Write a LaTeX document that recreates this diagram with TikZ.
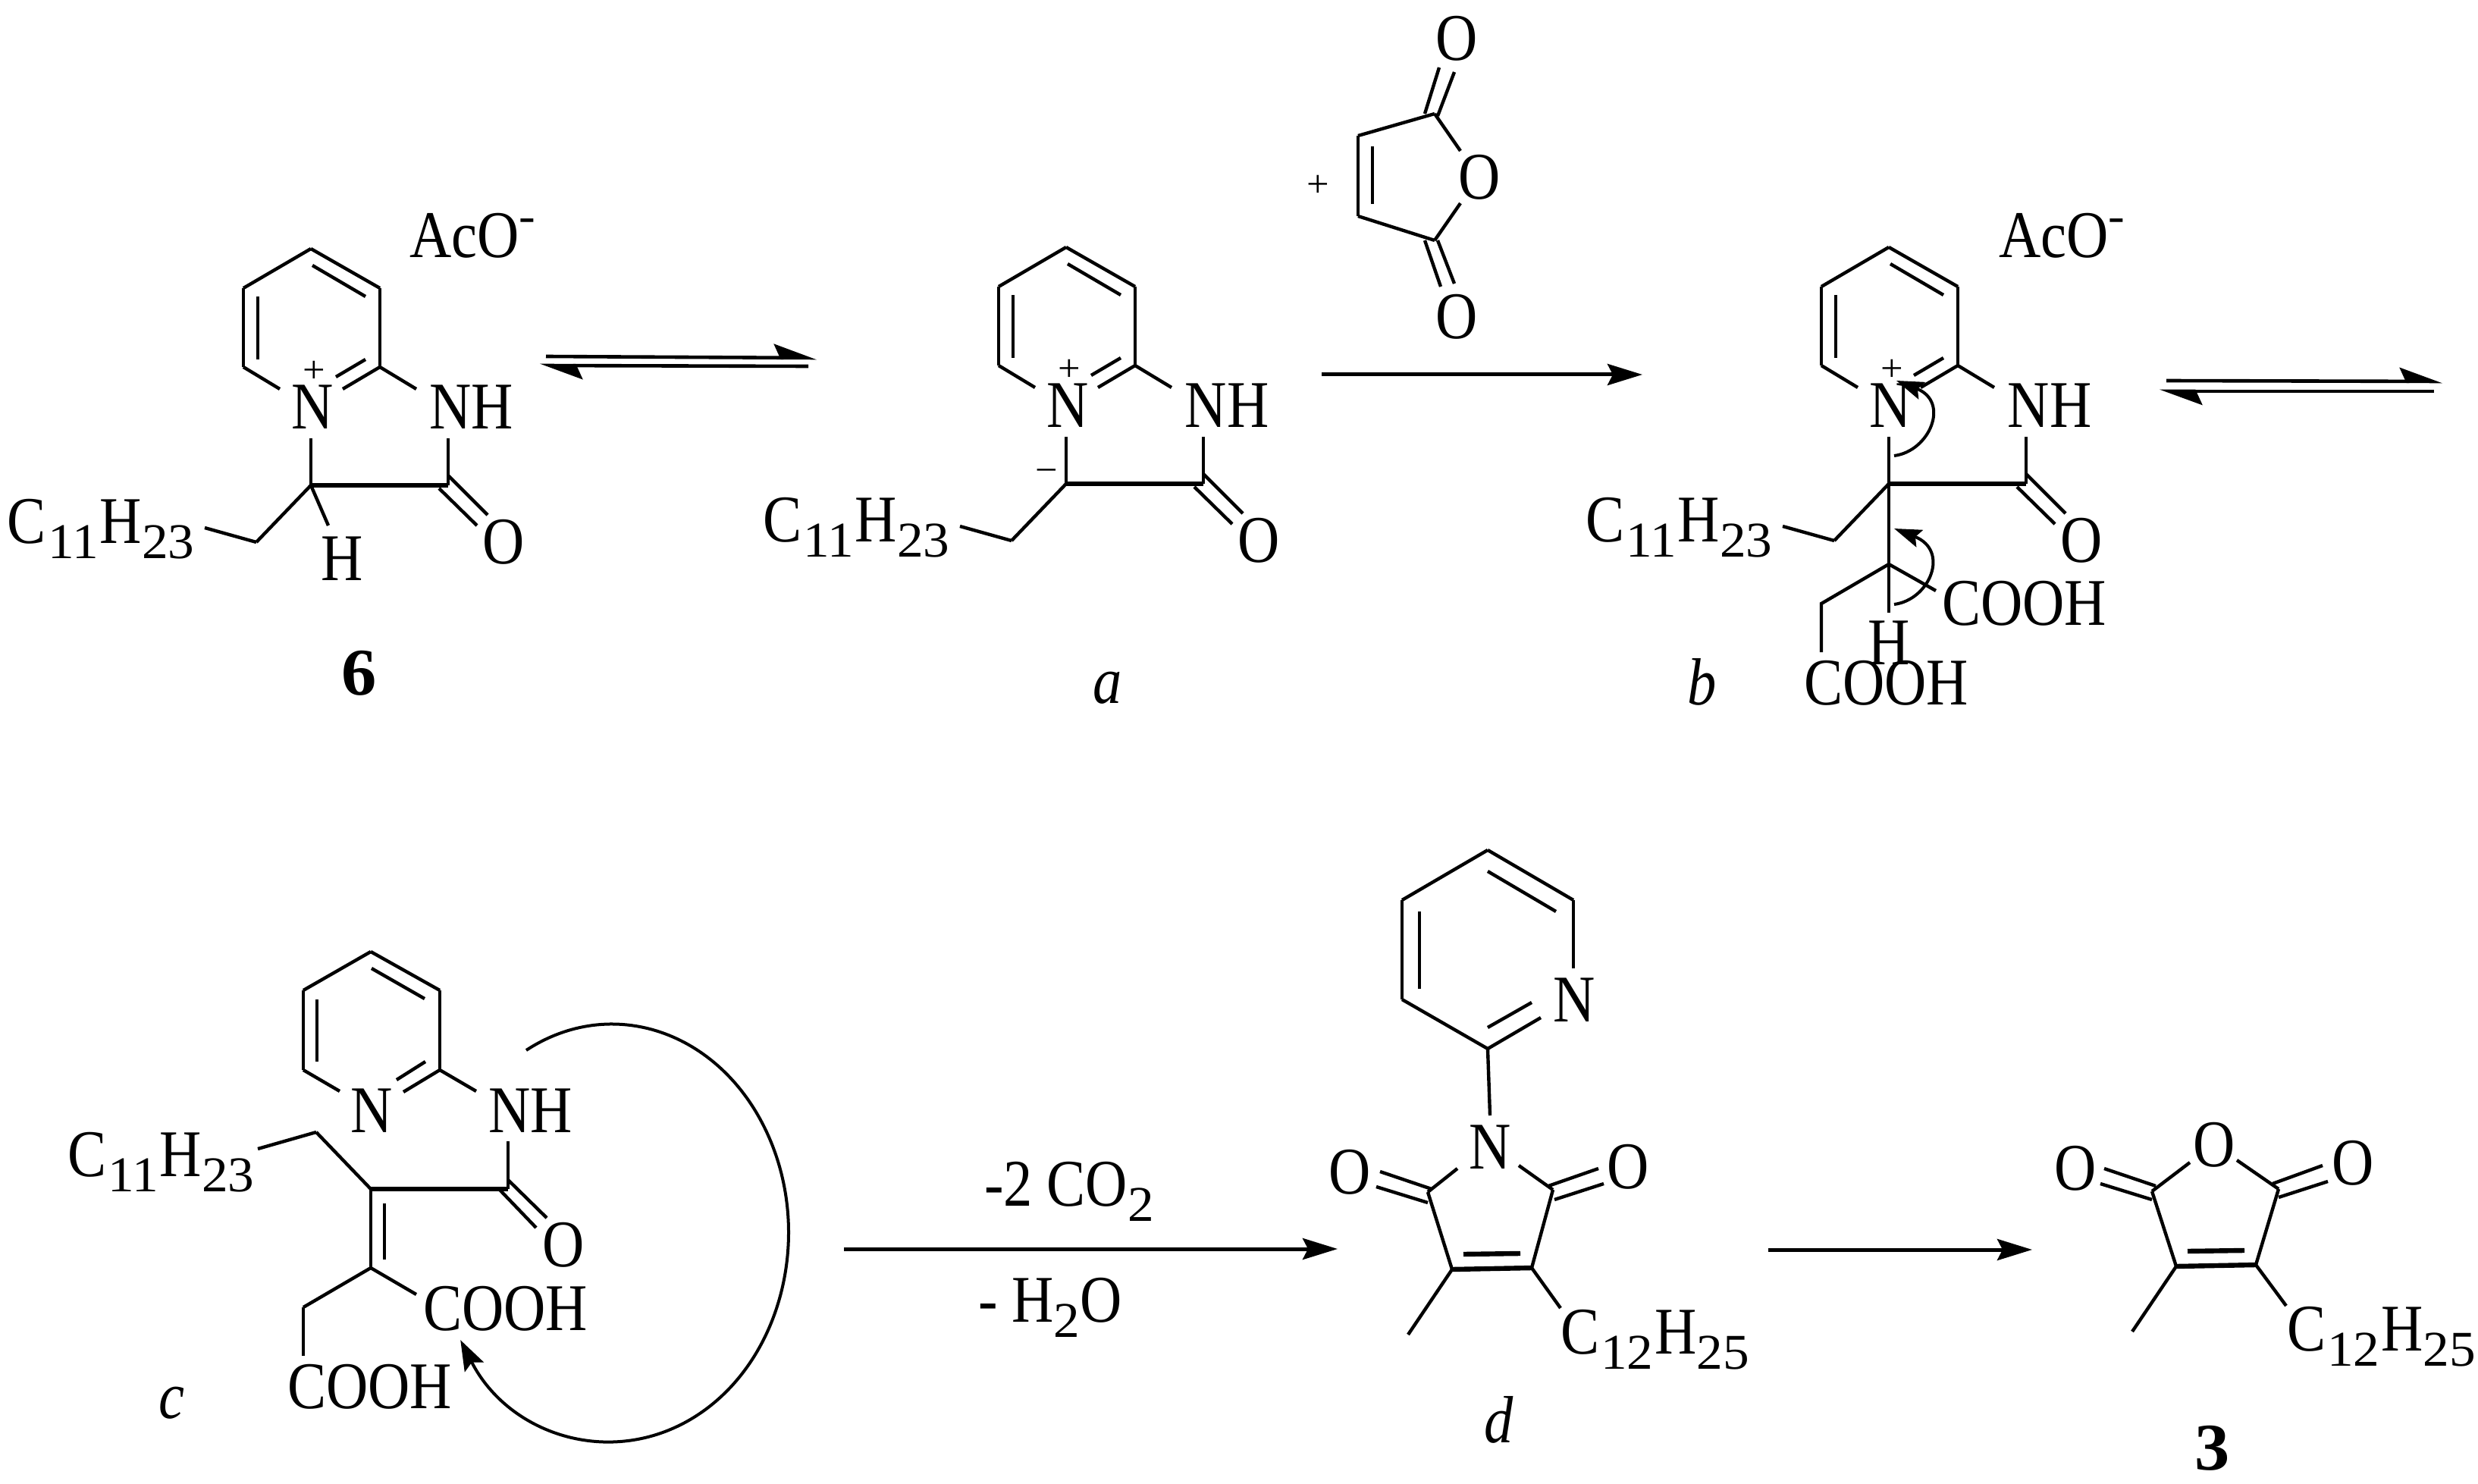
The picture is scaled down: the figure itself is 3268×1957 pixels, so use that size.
\documentclass[tikz,border=0pt]{standalone}
\usepackage{fontspec}
\setmainfont[FakeStretch=0.87]{Liberation Serif}
\newfontfamily\subf[FakeStretch=1.05]{Liberation Serif}
\usetikzlibrary{arrows.meta}
\newcommand\labfont{\fontsize{44}{50}\selectfont}
\newcommand\sbs[1]{\raisebox{-10pt}{\subf\fontsize{33}{33}\selectfont #1}}
\newcommand\spm{\raisebox{17pt}{\subf\fontsize{31}{31}\selectfont -}}
\newcommand\undec{C\kern1pt\sbs{11}\kern1pt H\sbs{23}}
\newcommand\dodec{C\kern1pt\sbs{12}\kern1pt H\sbs{25}}
\newcommand\coohtxt{COOH}
\tikzset{
  bond/.style={draw=black,line width=2.2pt,line cap=butt,line join=miter},
  heavy/.style={draw=black,line width=3.2pt},
  lab/.style={inner sep=0pt,outer sep=0pt,font=\labfont},
  chg/.style={inner sep=0pt,outer sep=0pt,font=\subf\fontsize{25}{30}\selectfont},
  rxn/.style={draw=black,line width=2.5pt,-{Stealth[length=23pt,width=14pt,inset=3.5pt]}},
  eqm/.style={draw=black,line width=2.3pt,-{Stealth[harpoon,length=25pt,width=18pt,inset=4pt]}},
  curly/.style={draw=black,line width=2pt,-{Stealth[length=18pt,width=12pt,inset=3pt]}},
}
\newcommand\fused[3]{%
  \begin{scope}[shift={(#2,#3)}]
    \foreach \n/\x/\y in {1/410/328,2/501/380,3/501/484,4/321/484,5/321/380,6/369/513,7/452/513,
      8/482/474,9/443/497,10/340/391,11/340/474,12/412/350,13/482/391,14/549/513,15/410/578,
      16/410/640,17/591/640,18/591/578,19/591/627,20/643/679,21/579/644,22/629/693,23/338/715,24/270/696}
      \coordinate (#1\n) at (\x,\y);
    \foreach \p/\q in {1/2,2/3,3/7,4/6,4/5,5/1,3/14,15/16,18/17,19/20,21/22,16/23,23/24,8/9,10/11,12/13}
      \draw[bond] (#1\p)--(#1\q);
    \draw[heavy] (#116)--(#117);
    \node[lab] (#1N) at (412,537) {N};
    \node[lab] (#1NH) at (622,537) {NH};
    \node[lab] (#1O) at (664,715) {O};
    \node[lab,anchor=base west] (#1R) at (10,717) {\undec};
    \node[chg] (#1plus) at (414,490) {+};
  \end{scope}}
\begin{document}
\begin{tikzpicture}[x=0.5pt,y=-0.5pt]
\useasboundingbox (0,0) rectangle (3268,1957);
% ---- molecule 6
\fused{f}{0}{0}
\coordinate (fH) at (433,693);
\draw[bond] (f16)--(fH);
\node[lab] (fHl) at (451,737) {H};
\node[lab,anchor=base west] (fAc) at (540,340) {AcO\spm};
\node[lab,anchor=base,font=\labfont\subf\bfseries] (l6) at (474,916) {6};
% ---- equilibrium 1
\coordinate (e1a) at (720,470); \coordinate (e1b) at (1077,472);
\coordinate (e1c) at (1066,483); \coordinate (e1d) at (712,482);
\draw[eqm] (e1a)--(e1b);
\draw[eqm] (e1c)--(e1d);
% ---- molecule a
\fused{a}{996}{-2}
\node[chg] (aminus) at (1380,628) {\char"2212};
\node[lab,anchor=base] (la) at (1461,927) {\itshape a};
% ---- maleic anhydride
\foreach \n/\x/\y in {1/1892/150,2/1791/179,3/1791/285,4/1892/317,5/1926/199,6/1926/268,7/1810/193,8/1810/269,
  9/1898/89,10/1879/150,11/1918/95,12/1896/153,13/1879/317,14/1900/378,15/1896/317,16/1918/374}
  \coordinate (m\n) at (\x,\y);
\foreach \p/\q in {1/2,2/3,3/4,1/5,4/6,7/8,9/10,11/12,13/14,15/16}
  \draw[bond] (m\p)--(m\q);
\node[lab] (mO) at (1951,234) {O};
\node[lab] (mOt) at (1921,51) {O};
\node[lab] (mOb) at (1921,418) {O};
\node[chg] (mplus) at (1738,245) {+};
% ---- arrow a to b
\coordinate (r1a) at (1743,494); \coordinate (r1b) at (2166,494);
\draw[rxn] (r1a)--(r1b);
% ---- molecule b
\fused{b}{2081}{-2}
\foreach \n/\x/\y in {a/2491/808,b/2491/744,c/2553/779,d/2402/796,e/2402/860}
  \coordinate (b\n) at (\x,\y);
\draw[bond] (b16)--(ba);
\draw[bond] (bb)--(bc);
\draw[bond] (bb)--(bd)--(be);
\node[lab] (bH) at (2491,848) {H};
\node[lab,anchor=base west] (bC1) at (2561,825) {\coohtxt};
\node[lab,anchor=base west] (bC2) at (2379,929) {\coohtxt};
\node[lab,anchor=base west] (bAc) at (2636,340) {AcO\spm};
\node[lab,anchor=base] (lb) at (2245,929) {\itshape b};
\coordinate (bs1) at (2498,601); \coordinate (bc1) at (2545,595); \coordinate (bc2) at (2572,530); \coordinate (bt1) at (2501,502);
\coordinate (bs2) at (2498,797); \coordinate (bc3) at (2545,791); \coordinate (bc4) at (2572,726); \coordinate (bt2) at (2498,697);
\draw[curly] (bs1) .. controls (bc1) and (bc2) .. (bt1);
\draw[curly] (bs2) .. controls (bc3) and (bc4) .. (bt2);
% ---- equilibrium 2
\coordinate (e2a) at (2857,502); \coordinate (e2b) at (3221,503);
\coordinate (e2c) at (3210,516); \coordinate (e2d) at (2848,516);
\draw[eqm] (e2a)--(e2b);
\draw[eqm] (e2c)--(e2d);
% ---- molecule c
\foreach \n/\x/\y in {1/489/1255,2/580/1306,3/580/1411,4/400/1411,5/400/1306,6/448/1439,7/532/1440,
  8/561/1400,9/523/1424,10/418/1318,11/418/1400,12/490/1277,13/560/1317,14/628/1439,15/670/1505,
  16/670/1568,17/489/1568,18/670/1556,19/721/1606,20/659/1569,21/707/1619,22/417/1493,23/340/1515,
  24/489/1672,25/507/1587,26/507/1661,27/549/1707,28/400/1724,29/400/1788}
  \coordinate (c\n) at (\x,\y);
\foreach \p/\q in {1/2,2/3,3/7,4/6,4/5,5/1,3/14,8/9,10/11,12/13,15/16,18/19,20/21,17/22,22/23,17/24,25/26,24/27,24/28,28/29}
  \draw[bond] (c\p)--(c\q);
\draw[heavy] (c17)--(c16);
\node[lab] (cN) at (490,1465) {N};
\node[lab] (cNH) at (700,1465) {NH};
\node[lab] (cO) at (743,1642) {O};
\node[lab,anchor=base west] (cR) at (89,1551) {\undec};
\node[lab,anchor=base west] (cC1) at (558,1754) {\coohtxt};
\node[lab,anchor=base west] (cC2) at (379,1857) {\coohtxt};
\node[lab,anchor=base] (lc) at (226,1870) {\itshape c};
\coordinate (cs) at (694,1385);
\draw[curly,-{Stealth[length=20pt,width=14pt,inset=3.5pt]}] (cs) arc[start angle=-119,end angle=149,x radius=233,y radius=275];
% ---- arrow c to d
\coordinate (r2a) at (1113,1647); \coordinate (r2b) at (1764,1647);
\draw[rxn] (r2a)--(r2b);
\node[lab,anchor=base west] (t1) at (1298,1590) {-2 CO\sbs{2}};
\node[lab,anchor=base west] (t2) at (1290,1743) {- H\sbs{2}O};
% ---- molecule d
\foreach \n/\x/\y in {1/1962/1121,2/2075/1187,3/2075/1277,4/2032/1342,5/1962/1383,6/1849/1318,7/1849/1187,
  8/2020/1322,9/1962/1355,10/1872/1202,11/1872/1304,12/1962/1149,13/2052/1202,14/1965/1471,
  15/1922/1541,16/1883/1572,17/2003/1537,18/2048/1569,19/1915/1674,20/2020/1672,21/1930/1654,22/2005/1653,
  23/1857/1760,24/2058/1725,25/1820/1545,26/1888/1568,27/1815/1565,28/1883/1586,29/2042/1564,30/2108/1541,31/2050/1582,32/2115/1561}
  \coordinate (d\n) at (\x,\y);
\foreach \p/\q in {1/2,2/3,4/5,5/6,6/7,7/1,8/9,10/11,12/13,5/14,15/16,17/18,16/19,18/20,19/23,20/24,25/26,27/28,29/30,31/32}
  \draw[bond] (d\p)--(d\q);
\draw[heavy] (d19)--(d20);
\draw[heavy] (d21)--(d22);
\node[lab] (dN1) at (2076,1319) {N};
\node[lab] (dN2) at (1965,1513) {N};
\node[lab] (dO1) at (1780,1546) {O};
\node[lab] (dO2) at (2147,1539) {O};
\node[lab,anchor=base west] (dR) at (2058,1785) {\dodec};
\node[lab,anchor=base] (ld) at (1977,1902) {\itshape d};
% ---- arrow d to 3
\coordinate (r3a) at (2332,1648); \coordinate (r3b) at (2680,1648);
\draw[rxn] (r3a)--(r3b);
% ---- molecule 3
\foreach \n/\x/\y in {1/2838/1571,2/3005/1568,3/2870/1670,4/2975/1668,5/2888/1533,6/2950/1530,7/2885/1650,8/2960/1649,
  9/2812/1756,10/3015/1722,11/2775/1541,12/2843/1564,13/2770/1561,14/2838/1582,15/2997/1561,16/3063/1537,17/3005/1579,18/3070/1558}
  \coordinate (t\n) at (\x,\y);
\foreach \p/\q in {1/3,2/4,5/1,6/2,3/9,4/10,11/12,13/14,15/16,17/18}
  \draw[bond] (t\p)--(t\q);
\draw[heavy] (t3)--(t4);
\draw[heavy] (t7)--(t8);
\node[lab] (tO) at (2920,1510) {O};
\node[lab] (tO1) at (2737,1541) {O};
\node[lab] (tO2) at (3103,1534) {O};
\node[lab,anchor=base west] (tR) at (3016,1781) {\dodec};
\node[lab,anchor=base,font=\labfont\subf\bfseries] (l3) at (2918,1938) {3};
\end{tikzpicture}
\end{document}
